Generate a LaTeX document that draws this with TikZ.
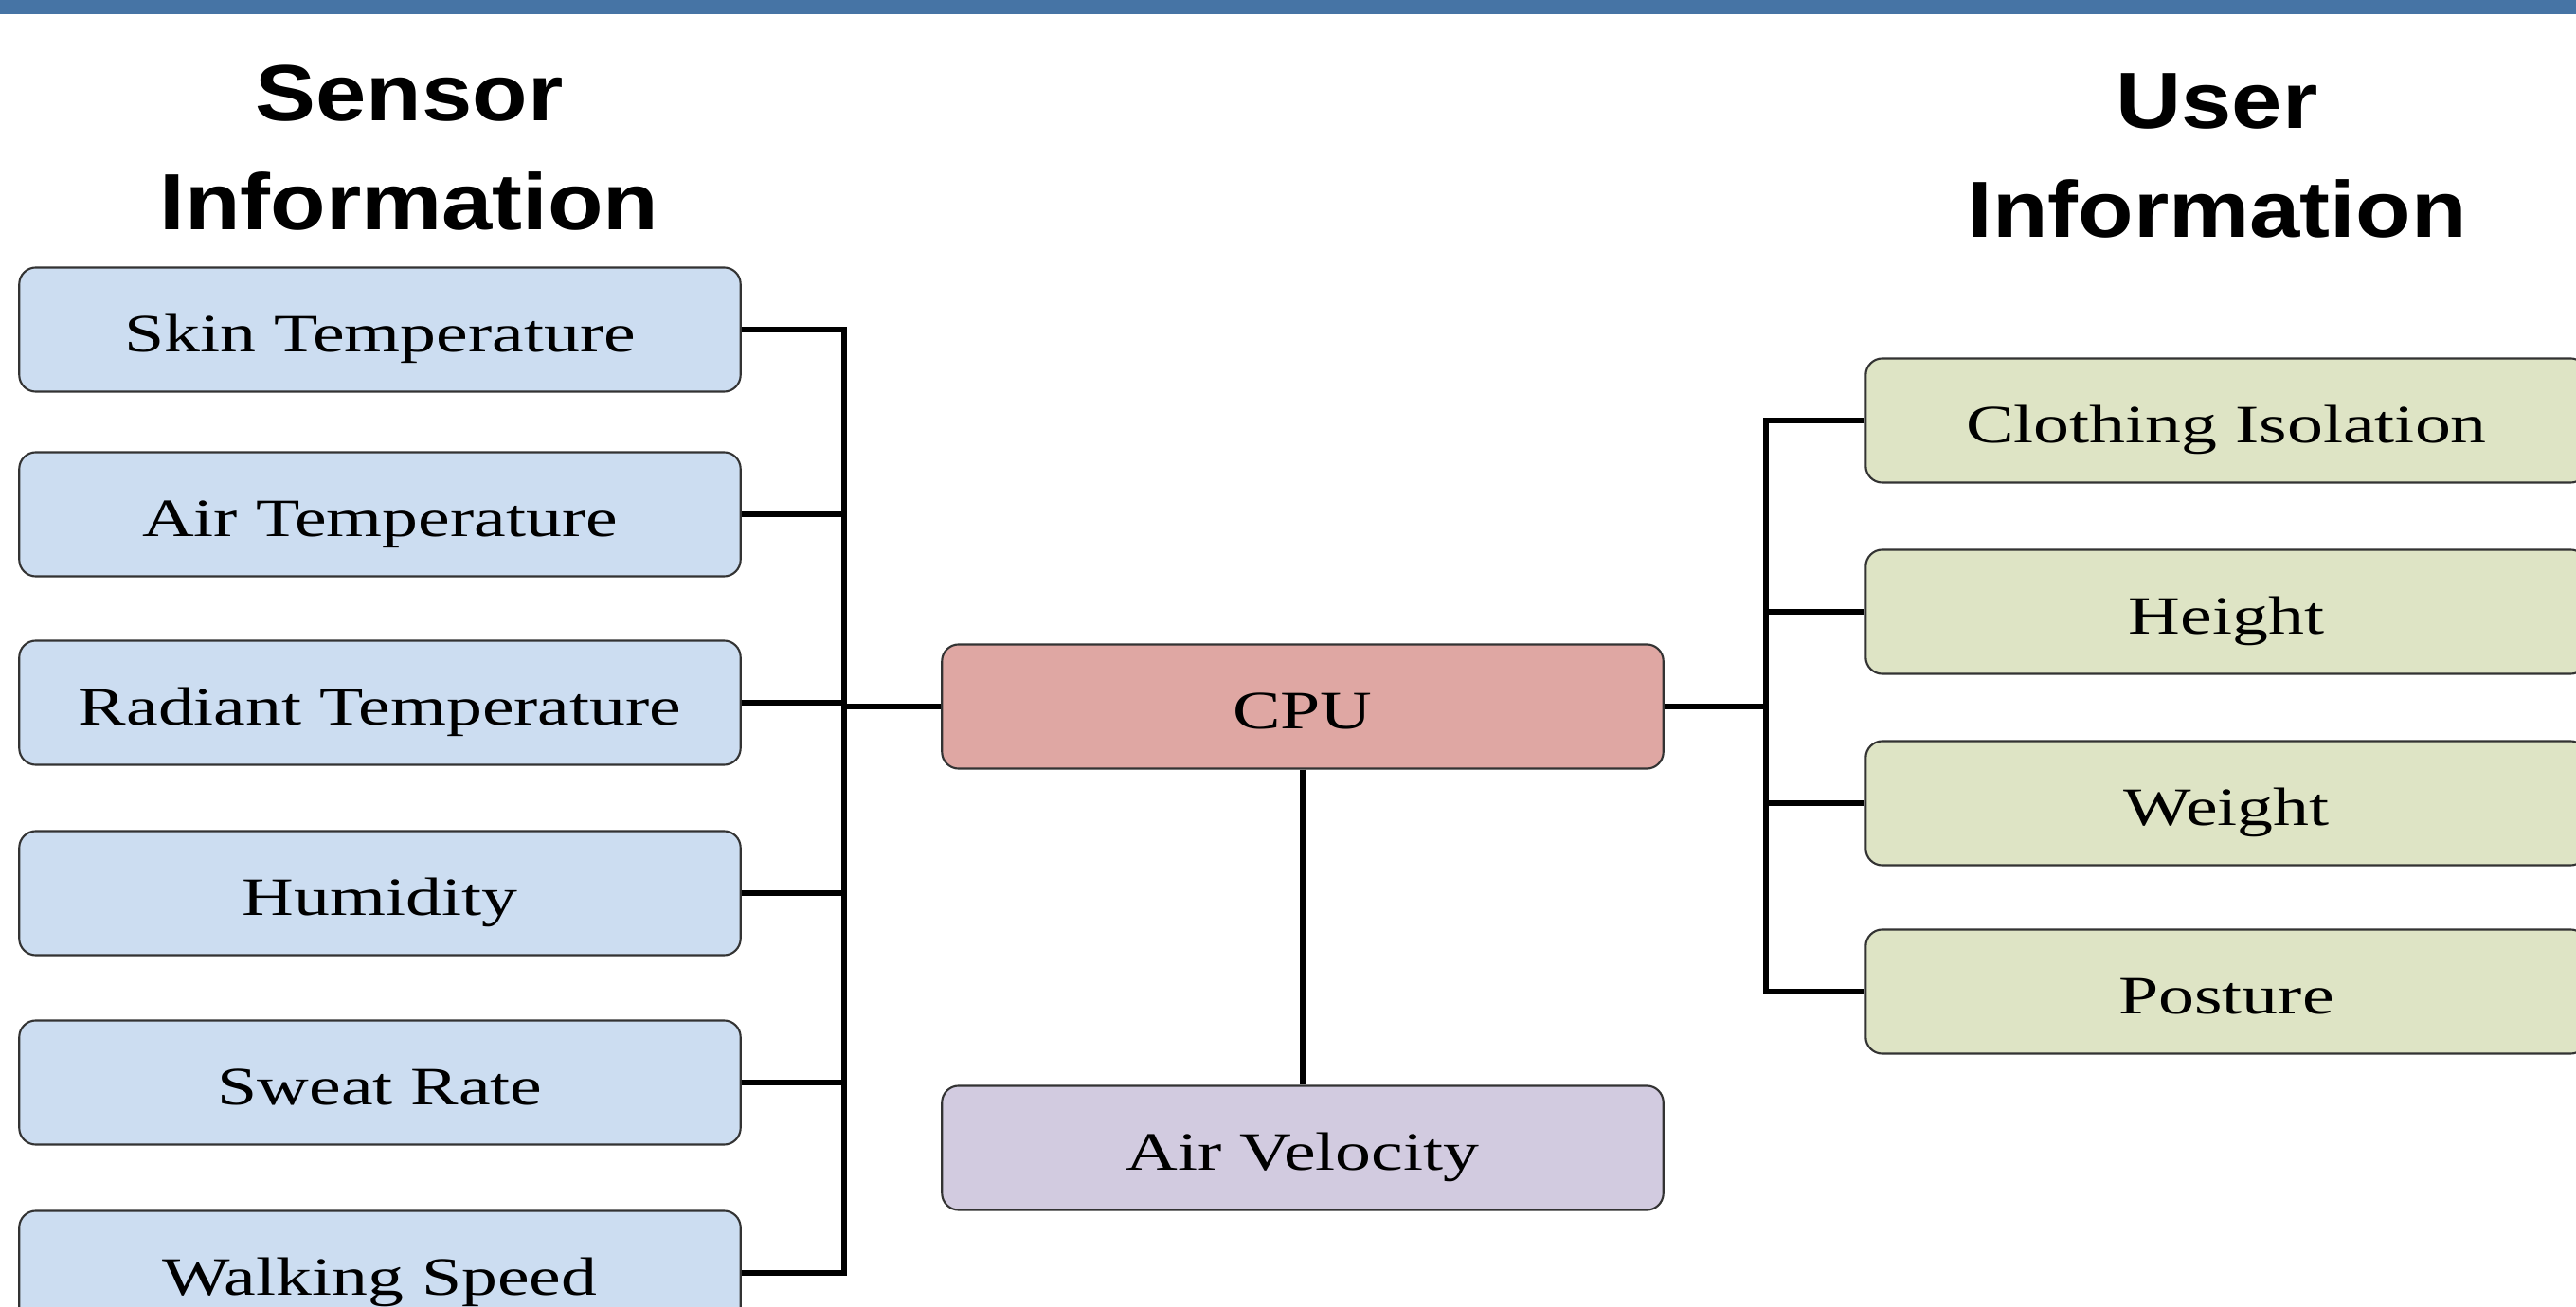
\documentclass[tikz,border=0pt]{standalone}
\usepackage{fontspec}
\usepackage{graphicx}
\setmainfont{Liberation Serif}
\newfontfamily\headfont{Liberation Sans}
\usetikzlibrary{positioning}
\definecolor{barblue}{HTML}{4674A5}
\definecolor{sensorfill}{HTML}{CCDDF1}
\definecolor{cpufill}{HTML}{DFA7A3}
\definecolor{airfill}{HTML}{D2CBE0}
\definecolor{userfill}{HTML}{DEE4C5}
\newcommand{\wide}[1]{\scalebox{1.33}[1]{#1}}
\newcommand{\headwide}[1]{\scalebox{1.14}[1]{#1}}
\tikzset{
	box/.style={draw=black!80, line width=0.6pt, rounded corners=5pt,
		minimum width=7.61cm, minimum height=1.31cm, inner sep=0pt,
		text height=13.6pt, text depth=0pt,
		font=\fontsize{16.2}{19}\selectfont},
	sensorbox/.style={box, fill=sensorfill},
	userbox/.style={box, fill=userfill},
	head/.style={align=center, inner sep=0pt,
		font=\headfont\bfseries\fontsize{23.9}{32.7}\selectfont},
	wire/.style={line width=1.8pt}
}
\begin{document}
\begin{tikzpicture}[x=0.01cm, y=-0.01cm, line join=miter]
	\def\W{2719} \def\H{1380} % page in pixels
	\def\lx{891} \def\rx{1864} % buses
	\useasboundingbox (0,0) rectangle (\W,\H);
	\clip (0,0) rectangle (\W,\H);
	\fill[barblue] (0,0) rectangle (\W,15);
	\node[head, anchor=south] (sensorhead) at (432,244) {\headwide{Sensor}\\\headwide{Information}};
	\node[head, anchor=south] (userhead) at (2340,252) {\headwide{User}\\\headwide{Information}};
	% sensor side
	\foreach \name/\yy/\txt in {skin/348/Skin Temperature, airt/543/Air Temperature,
		radt/742/Radiant Temperature, humid/943/Humidity, sweat/1143/Sweat Rate,
		walk/1344/Walking Speed}
		\node[sensorbox] (\name) at (401,\yy) {\wide{\txt}};
	% user side
	\foreach \name/\yy/\txt in {cloth/444/Clothing Isolation, height/646/Height,
		weight/848/Weight, posture/1047/Posture}
		\node[userbox] (\name) at (2350,\yy) {\wide{\txt}};
	\node[box, fill=cpufill] (cpu) at (1375,746) {\wide{CPU}};
	\node[box, fill=airfill] (airvel) at (1375,1212) {\wide{Air Velocity}};
	\coordinate (lbus) at (\lx,0);
	\coordinate (rbus) at (\rx,0);
	\draw[wire] (skin.east) -| (lbus |- walk.east) -- (walk.east);
	\foreach \name in {airt, radt, humid, sweat}
		\draw[wire] (\name.east) -- (\name.east -| lbus);
	\draw[wire] (lbus |- cpu.west) -- (cpu.west);
	\draw[wire] (cloth.west) -| (rbus |- posture.west) -- (posture.west);
	\foreach \name in {height, weight}
		\draw[wire] (\name.west) -- (\name.west -| rbus);
	\draw[wire] (cpu.east) -- (cpu.east -| rbus);
	\draw[wire] (cpu) -- (airvel);
\end{tikzpicture}
\end{document}
